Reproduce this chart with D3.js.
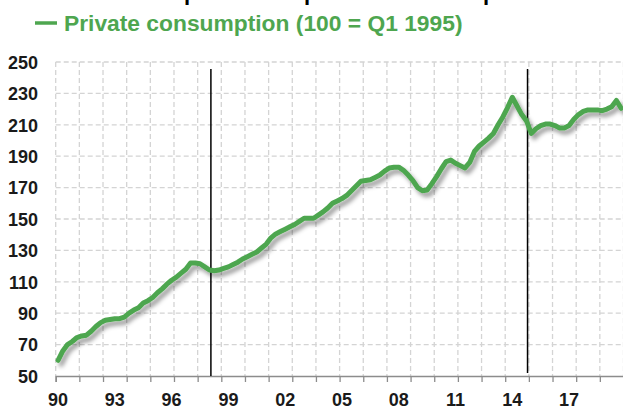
<!DOCTYPE html>
<html>
<head>
<meta charset="utf-8">
<script src="https://cdn.jsdelivr.net/npm/d3@7/dist/d3.min.js"></script>
<style>
  html, body { margin: 0; padding: 0; background: #fff; }
  svg { display: block; }
</style>
</head>
<body>
<svg id="chart" width="623" height="408"></svg>
<script>
// ---------- DATA ----------
const startYear = 1990;
// Quarterly index, 1990Q1 .. 2019Q4 (100 = Q1 1995)
const consumption = [
  60, 66, 70, 72, 74.5, 75.5, 76, 78.5, 81.5, 84, 85.5, 86,
  86.5, 86.5, 87.5, 90, 92, 93.5, 96.5, 98, 100, 103, 105.5, 108.5,
  111, 113, 115.5, 118, 122, 122, 121.5, 119.5, 117.5, 117, 117.5, 118.5,
  119.5, 121, 122.5, 124.5, 126, 127.5, 129, 131.5, 134, 138, 140.5, 142,
  143.5, 145, 146.5, 148.5, 150.5, 150.5, 150.5, 152.5, 154.5, 157, 160, 161.5,
  163, 165, 168, 171, 174, 174.5, 175, 176.5, 178, 180.5, 182.5, 183,
  183, 181, 178, 174.5, 170, 168, 168.5, 172.5, 177, 182, 186.5, 187.5,
  185.5, 184, 182.5, 186, 193, 196.5, 199, 201.5, 204.5, 210, 215, 221,
  227.5, 222, 216.5, 212.5, 204.5, 207.5, 209.5, 210.5, 210.5, 209.5, 208, 208,
  209.5, 213.5, 216.5, 218.5, 219.5, 219.5, 219.5, 219, 220, 221.5, 225.5, 220.5
];
const quarters = consumption.map((_, i) => (startYear + Math.floor(i / 4)) + "Q" + (i % 4 + 1));
const xTickLabels = ["90", "93", "96", "99", "02", "05", "08", "11", "14", "17"];
const yTicks = [50, 70, 90, 110, 130, 150, 170, 190, 210, 230, 250];
const eventLines = [1998.2, 2014.93];   // decimal years of the vertical markers
const legendLabel = "Private consumption (100 = Q1 1995)";

// ---------- LAYOUT ----------
const svg = d3.select("#chart");
const mLeft = 55.7, mRight = 623.5, mTop = 62, mBottom = 376;
const green = "#4ea64f";

const xq = d3.scaleLinear().domain([0, quarters.length]).range([mLeft, mRight]);
const xYear = d3.scaleLinear().domain([startYear, startYear + quarters.length / 4]).range([mLeft, mRight]);
const y = d3.scaleLinear().domain([50, 250]).range([mBottom, mTop]);

const defs = svg.append("defs");
const f = defs.append("filter").attr("id", "shadow")
  .attr("x", "-5%").attr("y", "-10%").attr("width", "115%").attr("height", "130%");
f.append("feDropShadow").attr("dx", 3).attr("dy", 4).attr("stdDeviation", 2)
  .attr("flood-color", "#000").attr("flood-opacity", 0.38);

// ---------- TITLE (mostly cut off at the top, as in the reference) ----------
const title = svg.append("text")
  .attr("y", 0)
  .attr("font-family", "'Liberation Sans', Arial, sans-serif")
  .attr("font-weight", "bold").attr("font-size", 22).attr("fill", "#000");
title.append("tspan").attr("x", 58).text("Russia: two");
title.append("tspan").attr("x", 184).text("plummets");
title.append("tspan").attr("x", 304).text("post 1998 and");
title.append("tspan").attr("x", 483).text("post 2014");

// ---------- LEGEND ----------
svg.append("line")
  .attr("x1", 35).attr("x2", 57).attr("y1", 23).attr("y2", 23)
  .attr("stroke", green).attr("stroke-width", 3.5);
svg.append("text")
  .attr("x", 64).attr("y", 31)
  .attr("font-family", "'Liberation Sans', Arial, sans-serif")
  .attr("font-weight", "bold").attr("font-size", 22.8).attr("fill", green)
  .text(legendLabel);

// ---------- GRID ----------
const grid = svg.append("g")
  .attr("stroke", "#d4d4d4").attr("stroke-width", 1.3).attr("stroke-dasharray", "5,3");
grid.selectAll("line.h").data(yTicks.filter(v => v > 50)).join("line")
  .attr("class", "h")
  .attr("x1", mLeft).attr("x2", mRight)
  .attr("y1", d => y(d)).attr("y2", d => y(d));
const vTicks = d3.range(0, quarters.length + 1, 5);
grid.selectAll("line.v").data(vTicks).join("line")
  .attr("class", "v")
  .attr("x1", d => xq(d)).attr("x2", d => xq(d))
  .attr("y1", mTop).attr("y2", mBottom);

// ---------- AXES ----------
const fontAxis = "'Liberation Sans Narrow', 'Arial Narrow', 'Liberation Sans', Arial, sans-serif";
const yAxis = d3.axisLeft(y).tickValues(yTicks).tickSize(0).tickPadding(0);
const gy = svg.append("g").attr("transform", `translate(38,0)`).call(yAxis);
gy.select(".domain").remove();
gy.selectAll("text")
  .attr("font-family", fontAxis).attr("font-weight", "bold")
  .attr("font-size", 18).attr("fill", "#1a1a1a").attr("dy", "0.35em");

const xAxis = d3.axisBottom(xq).tickValues(vTicks).tickSize(6).tickFormat("");
const gx = svg.append("g").attr("transform", `translate(0,${mBottom})`).call(xAxis);
gx.select(".domain").attr("stroke", "#8c8c8c").attr("stroke-width", 1.5);
gx.selectAll(".tick line").attr("stroke", "#8c8c8c").attr("stroke-width", 1.3);

svg.append("g").selectAll("text").data(xTickLabels).join("text")
  .attr("x", (d, i) => xq(i * 12 + 0.5))
  .attr("y", 405.5)
  .attr("text-anchor", "middle")
  .attr("font-family", fontAxis).attr("font-weight", "bold")
  .attr("font-size", 18).attr("fill", "#1a1a1a")
  .text(d => d);

// ---------- EVENT LINES ----------
svg.append("g").selectAll("line").data(eventLines).join("line")
  .attr("x1", d => xYear(d)).attr("x2", d => xYear(d))
  .attr("y1", 69).attr("y2", (d, i) => i === 0 ? mBottom : mBottom - 3)
  .attr("stroke", "#000").attr("stroke-width", 1.5);

// ---------- SERIES ----------
const line = d3.line()
  .x((d, i) => xq(i + 0.5))
  .y(d => y(d));
svg.append("path")
  .datum(consumption)
  .attr("d", line)
  .attr("fill", "none")
  .attr("stroke", green).attr("stroke-width", 5)
  .attr("stroke-linejoin", "round").attr("stroke-linecap", "round")
  .attr("filter", "url(#shadow)");
</script>
</body>
</html>
